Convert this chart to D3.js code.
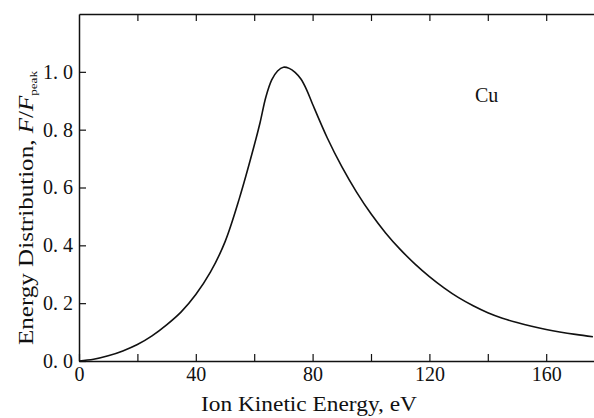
<!DOCTYPE html>
<html>
<head>
<meta charset="utf-8">
<script src="https://cdn.jsdelivr.net/npm/d3@7"></script>
<style>
  html, body { margin: 0; padding: 0; background: #fff; }
  svg { display: block; }
  text { font-family: "Liberation Serif", "Times New Roman", serif; fill: #111; }
</style>
</head>
<body>
<script>
// Ion kinetic energy (eV) and normalized energy distribution F/Fpeak for Cu
const energy = [0, 5, 10, 15, 20, 25, 30, 35, 40, 45, 50, 55, 60, 62, 64, 66, 68, 70, 72, 74, 76, 78, 80, 85, 90, 95, 100, 105, 110, 115, 120, 125, 130, 135, 140, 145, 150, 155, 160, 170, 176];
const fRatio = [0, 0.006, 0.018, 0.035, 0.057, 0.087, 0.125, 0.17, 0.23, 0.307, 0.412, 0.565, 0.745, 0.824, 0.913, 0.972, 1.003, 1.016, 1.012, 0.998, 0.975, 0.937, 0.888, 0.772, 0.672, 0.585, 0.509, 0.443, 0.386, 0.336, 0.292, 0.253, 0.219, 0.191, 0.167, 0.148, 0.133, 0.12, 0.109, 0.092, 0.084];

const xTickValues = [0, 20, 40, 60, 80, 100, 120, 140, 160];
const xTickLabels = [0, 40, 80, 120, 160];
const yTickValues = [0, 0.2, 0.4, 0.6, 0.8, 1.0];
const yTickLabels = ["0.0", "0.2", "0.4", "0.6", "0.8", "1.0"];
const seriesLabel = "Cu";

const W = 594, H = 418;
const svg = d3.select("body").append("svg").attr("width", W).attr("height", H);

const x = d3.scaleLinear().domain([0, 180]).range([79, 604.6]);
const y = d3.scaleLinear().domain([0, 1.2]).range([361, 14]);

const axisStyle = g => {
  g.selectAll("path.domain").attr("stroke", "#111").attr("stroke-width", 1.5);
  g.selectAll(".tick line").attr("stroke", "#111").attr("stroke-width", 1.2);
  g.selectAll(".tick text")
    .style("font-family", '"Liberation Serif", serif')
    .style("font-size", "20px")
    .attr("fill", "#111");
};

// bottom axis: inward ticks every 20 eV, labels every 40 eV
svg.append("g")
  .attr("transform", `translate(0,${y(0)})`)
  .call(d3.axisBottom(x)
    .tickValues(xTickValues)
    .tickSizeInner(-7).tickSizeOuter(0).tickPadding(6)
    .tickFormat(d => xTickLabels.includes(d) ? String(d) : ""))
  .call(axisStyle);

// top frame line with inward ticks
svg.append("g")
  .attr("transform", `translate(0,${y(1.2)})`)
  .call(d3.axisTop(x)
    .tickValues(xTickValues.filter(d => d > 0))
    .tickSizeInner(-7).tickSizeOuter(0)
    .tickFormat(""))
  .call(axisStyle);

// left axis; labels are set with a gap after the decimal point
const yAxis = svg.append("g")
  .attr("transform", `translate(${x(0)},0)`)
  .call(d3.axisLeft(y)
    .tickValues(yTickValues)
    .tickSizeInner(-7).tickSizeOuter(0).tickPadding(6)
    .tickFormat((d, i) => yTickLabels[i]))
  .call(axisStyle);

yAxis.selectAll(".tick text").each(function () {
  const t = d3.select(this);
  const parts = t.text().split(".");
  t.text(null);
  t.append("tspan").text(parts[0] + ".");
  t.append("tspan").attr("dx", 5).text(parts[1]);
});

// distribution curve
const line = d3.line()
  .x((d, i) => x(energy[i]))
  .y(d => y(d))
  .curve(d3.curveCatmullRom.alpha(0.5));

svg.append("path")
  .datum(fRatio)
  .attr("d", line)
  .attr("fill", "none")
  .attr("stroke", "#111")
  .attr("stroke-width", 1.6);

// series label
svg.append("text")
  .attr("x", 475).attr("y", 102)
  .style("font-size", "20px")
  .text(seriesLabel);

// x axis title
svg.append("text")
  .attr("x", 309).attr("y", 411)
  .attr("text-anchor", "middle")
  .attr("textLength", 216)
  .attr("lengthAdjust", "spacingAndGlyphs")
  .style("font-size", "21px")
  .text("Ion Kinetic Energy, eV");

// y axis title
const yt = svg.append("text")
  .attr("transform", "translate(33,208) rotate(-90)")
  .attr("text-anchor", "middle")
  .attr("textLength", 274)
  .attr("lengthAdjust", "spacingAndGlyphs")
  .style("font-size", "21px");
yt.append("tspan").text("Energy Distribution, ");
yt.append("tspan").style("font-style", "italic").text("F");
yt.append("tspan").text("/");
yt.append("tspan").style("font-style", "italic").text("F");
yt.append("tspan").attr("dy", 4).style("font-size", "11px").text("peak");
</script>
</body>
</html>
